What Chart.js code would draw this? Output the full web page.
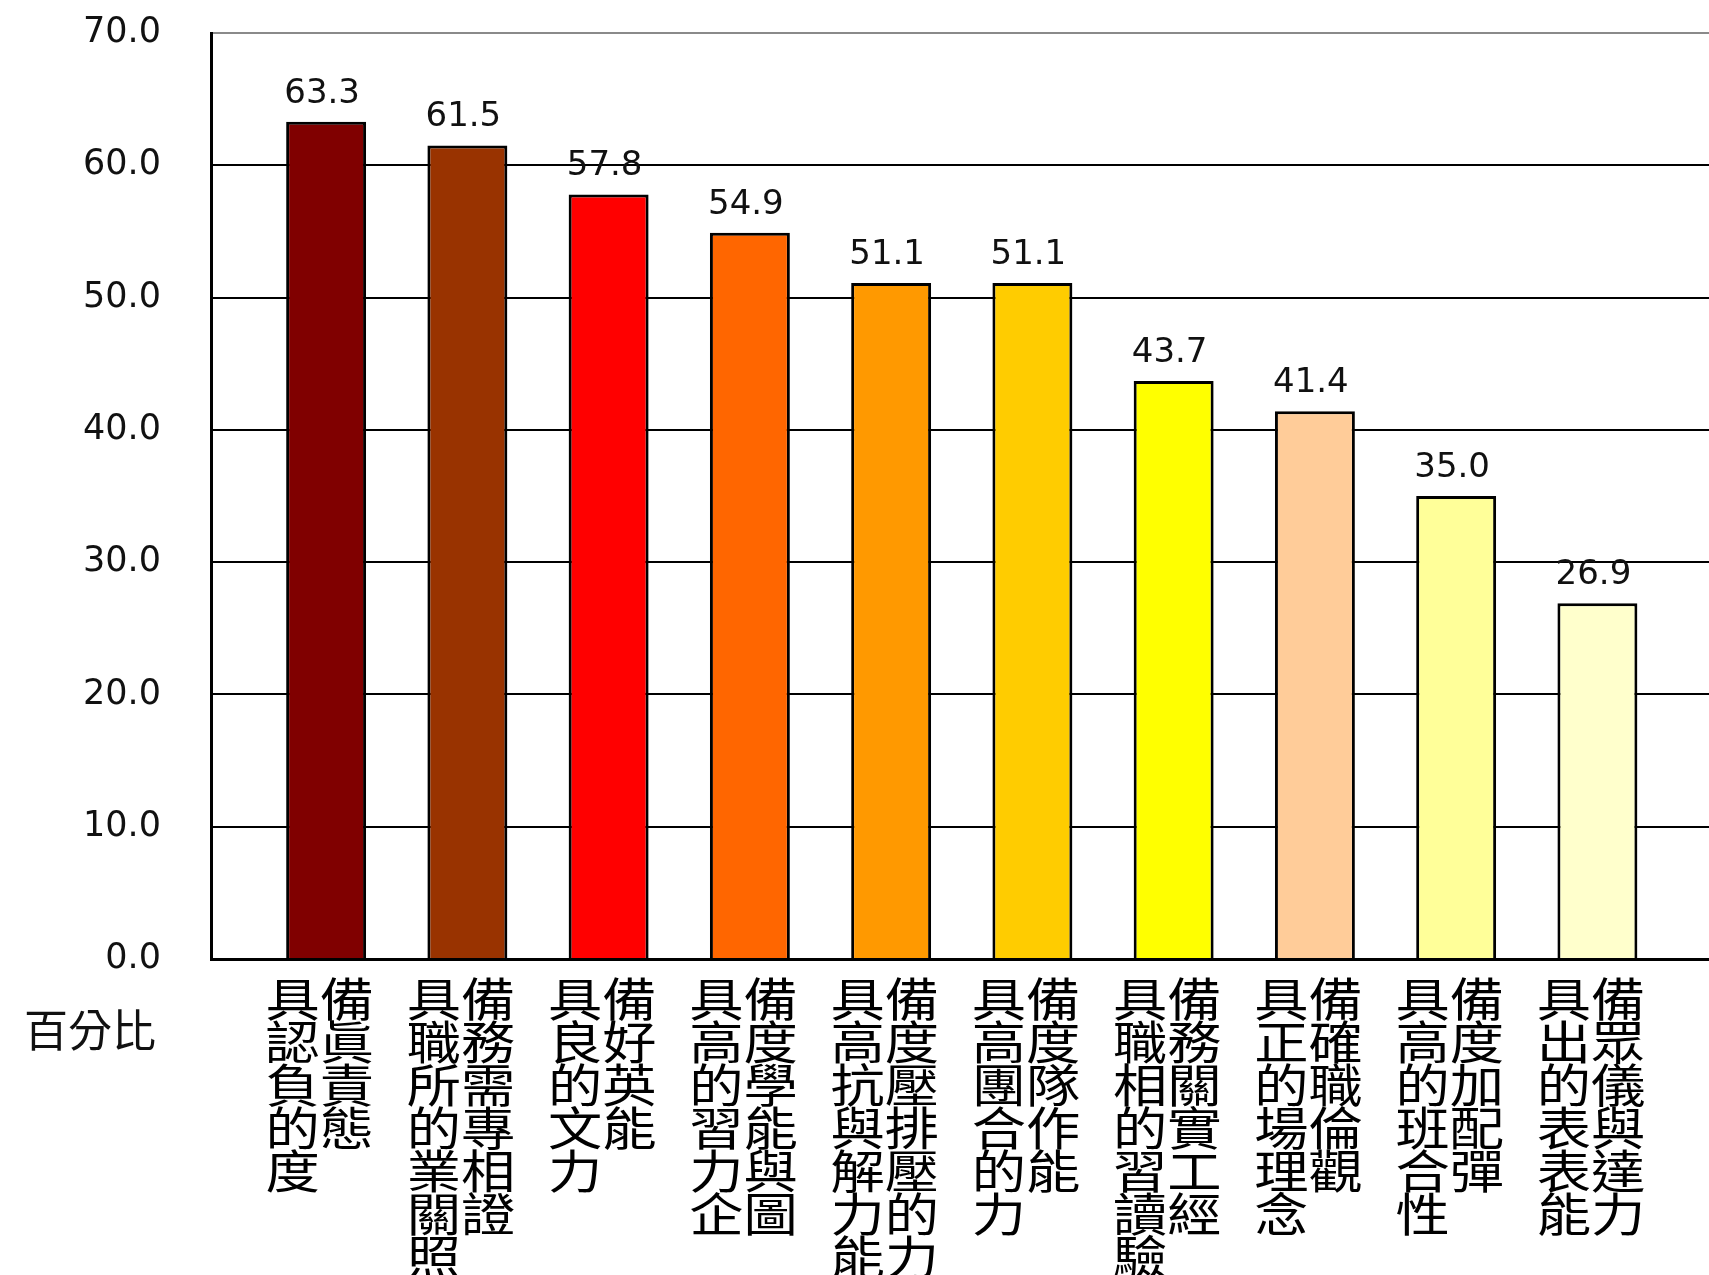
<!DOCTYPE html>
<html>
<head>
<meta charset="utf-8">
<script src="https://cdn.jsdelivr.net/npm/chart.js@4"></script>
<style>
html,body{margin:0;padding:0;background:#fff;}
canvas{display:block;}
</style>
</head>
<body>
<canvas id="c" width="1709" height="1275" style="width:1709px;height:1275px"></canvas>
<script>
const categories = [
  ["具備","認眞","負責","的態","度"],
  ["具備","職務","所需","的專","業相","關證","照"],
  ["具備","良好","的英","文能","力"],
  ["具備","高度","的學","習能","力與","企圖"],
  ["具備","高度","抗壓","與排","解壓","力的","能力"],
  ["具備","高度","團隊","合作","的能","力"],
  ["具備","職務","相關","的實","習工","讀經","驗"],
  ["具備","正確","的職","場倫","理觀","念"],
  ["具備","高度","的加","班配","合彈","性"],
  ["具備","出眾","的儀","表與","表達","能力"]
];
const values = [63.3, 61.5, 57.8, 54.9, 51.1, 51.1, 43.7, 41.4, 35.0, 26.9];
const barColors = ["#800000","#993300","#FF0000","#FF6600","#FF9900","#FFCC00","#FFFF00","#FFCC99","#FFFF99","#FFFFCC"];
const yTicks = [0,10,20,30,40,50,60,70];
const yAxisLabel = "百分比";

const points = values.map((v, i) => ({x: i, y: v}));
// left edge of each (left-aligned) category label, relative to its bar centre
const labelShift = 0.43;
// horizontal stretch of the category label glyphs (reference font is wide)
const labelStretch = 1.18;

const valueLabels = {
  id: 'valueLabels',
  afterDatasetsDraw(chart) {
    const ctx = chart.ctx;
    const meta = chart.getDatasetMeta(0);
    ctx.save();
    ctx.font = '34px "DejaVu Sans"';
    ctx.fillStyle = '#111';
    ctx.textAlign = 'center';
    ctx.textBaseline = 'alphabetic';
    meta.data.forEach((bar, i) => {
      ctx.fillText(values[i].toFixed(1), bar.x - 4, bar.y - 19);
    });
    ctx.restore();
  },
  afterDraw(chart) {
    const ctx = chart.ctx;
    ctx.save();
    ctx.font = '44px "Noto Sans CJK TC"';
    ctx.fillStyle = '#111';
    ctx.textAlign = 'center';
    ctx.textBaseline = 'middle';
    ctx.fillText(yAxisLabel, 90, 1030);
    ctx.restore();
  }
};

const chart = new Chart(document.getElementById('c'), {
  type: 'bar',
  data: {
    datasets: [{
      data: points,
      backgroundColor: barColors,
      borderColor: '#000',
      borderWidth: 3,
      categoryPercentage: 1,
      barPercentage: 0.566
    }]
  },
  options: {
    responsive: false,
    animation: false,
    devicePixelRatio: 1,
    layout: { padding: { top: 33, left: 0, right: 0, bottom: 0 } },
    plugins: { legend: { display: false }, tooltip: { enabled: false } },
    scales: {
      x: {
        type: 'linear',
        offset: false,
        min: -0.815,
        max: 9.79,
        afterBuildTicks(scale) { scale.ticks = categories.map((c, i) => ({ value: i - labelShift })); },
        afterFit(scale) { scale.height = 316; scale.paddingLeft = 0; scale.paddingRight = 0; },
        grid: { display: false, drawTicks: false },
        border: { display: true, color: '#000', width: 3 },
        ticks: {
          autoSkip: false,
          maxRotation: 0,
          minRotation: 0,
          align: 'start',
          padding: 18,
          color: '#000',
          font: { family: '"Noto Sans CJK TC"', size: 46, lineHeight: 0.935 },
          callback: (v, i) => categories[i]
        }
      },
      y: {
        min: 0,
        max: 70,
        afterBuildTicks(scale) { scale.ticks = yTicks.map(v => ({ value: v })); },
        afterFit(scale) { scale.width = 211; scale.paddingTop = 0; scale.paddingBottom = 0; },
        grid: {
          drawTicks: false,
          color: (c) => (c.tick && c.tick.value === 70) ? '#8a8a8a' : '#000',
          lineWidth: 2
        },
        border: { display: true, color: '#000', width: 3 },
        ticks: {
          padding: 50,
          color: '#111',
          font: { family: '"DejaVu Sans"', size: 35 },
          callback: (v) => Number(v).toFixed(1)
        }
      }
    }
  },
  plugins: [valueLabels]
});

// draw the x-axis category labels with the library's own label items,
// stretched horizontally around each label's anchor point
const xScale = chart.scales.x;
xScale.drawLabels = function (chartArea) {
  const ctx = this.ctx;
  const items = this.getLabelItems(chartArea);
  for (const item of items) {
    const opts = Object.assign({}, item.options);
    const t = opts.translation;
    delete opts.translation;
    ctx.save();
    ctx.translate(t[0], t[1]);
    ctx.scale(labelStretch, 1);
    Chart.helpers.renderText(ctx, item.label, 0, item.textOffset, item.font, opts);
    ctx.restore();
  }
};
chart.draw();
</script>
</body>
</html>
